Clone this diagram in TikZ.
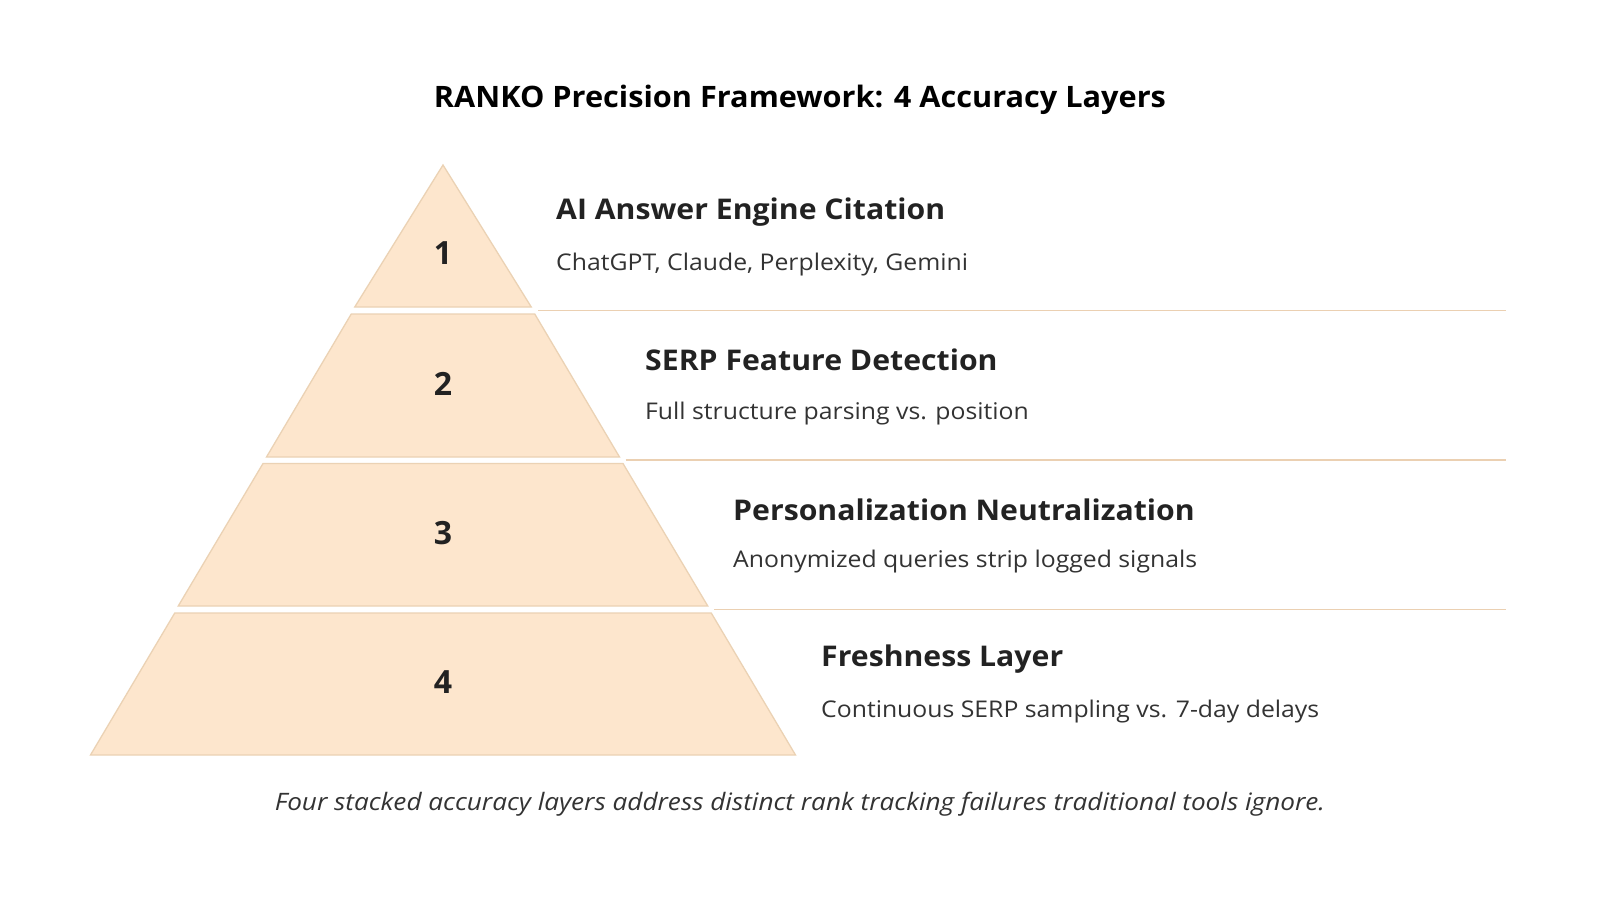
\documentclass[tikz,border=0pt]{standalone}
\usepackage{fontspec}
\setmainfont{Open Sans}
\definecolor{layerfill}{HTML}{FDE6CD}
\definecolor{layerdraw}{HTML}{EBD2B4}
\definecolor{sepcol}{HTML}{EBD0B2}
\definecolor{ink}{HTML}{222222}
\definecolor{subink}{HTML}{333333}
\tikzset{
  layer/.style={fill=layerfill, draw=layerdraw, line width=1.3pt, line join=miter},
  sepline/.style={draw=sepcol, line width=1.3pt},
  ltitle/.style={anchor=west, inner sep=0pt, text=ink, font=\fontsize{28.5}{32}\selectfont\bfseries\addfontfeatures{FakeStretch=1.06}},
  lsub/.style={anchor=west, inner sep=0pt, text=subink, font=\fontsize{23}{26}\selectfont\addfontfeatures{FakeStretch=1.077}},
  num/.style={inner sep=0pt, text=ink, font=\fontsize{32}{38}\selectfont\bfseries},
}
\begin{document}
\begin{tikzpicture}[x=1pt,y=-1pt]
\path[fill=white] (0,0) rectangle (1600,900);
\useasboundingbox (0,0) rectangle (1600,900);

% title
\node[inner sep=0pt, text=black, font=\fontsize{29.5}{34}\selectfont\bfseries\addfontfeatures{FakeStretch=1.04}] (title) at (800,100) {RANKO Precision Framework: 4 Accuracy Layers};

% pyramid layers
\path[layer] (443,165) -- (531.25,307) -- (354.75,307) -- cycle;
\path[layer] (443-91.75,314) -- (443+91.75,314) -- (443+176.5,457) -- (443-176.5,457) -- cycle;
\path[layer] (443-180,463.5) -- (443+180,463.5) -- (443+264.75,606) -- (443-264.75,606) -- cycle;
\path[layer] (443-268.25,613) -- (443+268.25,613) -- (443+352.5,755) -- (443-352.5,755) -- cycle;

% separators
\draw[sepline] (538,310.5) -- (1506,310.5);
\draw[sepline] (625.5,460) -- (1506,460);
\draw[sepline] (714,609.5) -- (1506,609.5);

% numbers
\node[num] (n1) at (443,253) {1};
\node[num] (n2) at (443,384) {2};
\node[num] (n3) at (443,533) {3};
\node[num] (n4) at (443,682) {4};

% layer texts
\node[ltitle] (t1) at (556,212) {AI Answer Engine Citation};
\node[lsub] (s1) at (556,265) {ChatGPT, Claude, Perplexity, Gemini};
\node[ltitle] (t2) at (645,360) {SERP Feature Detection};
\node[lsub] (s2) at (645,414) {Full structure parsing vs. position};
\node[ltitle] (t3) at (733,510) {Personalization Neutralization};
\node[lsub] (s3) at (733,562) {Anonymized queries strip logged signals};
\node[ltitle] (t4) at (821,659) {Freshness Layer};
\node[lsub] (s4) at (821,712) {Continuous SERP sampling vs. 7-day delays};

% caption
\node[inner sep=0pt, text=subink, font=\fontsize{24}{27}\selectfont\itshape\addfontfeatures{FakeStretch=1.09}] (cap) at (800,804) {Four stacked accuracy layers address distinct rank tracking failures traditional tools ignore.};
\end{tikzpicture}
\end{document}
